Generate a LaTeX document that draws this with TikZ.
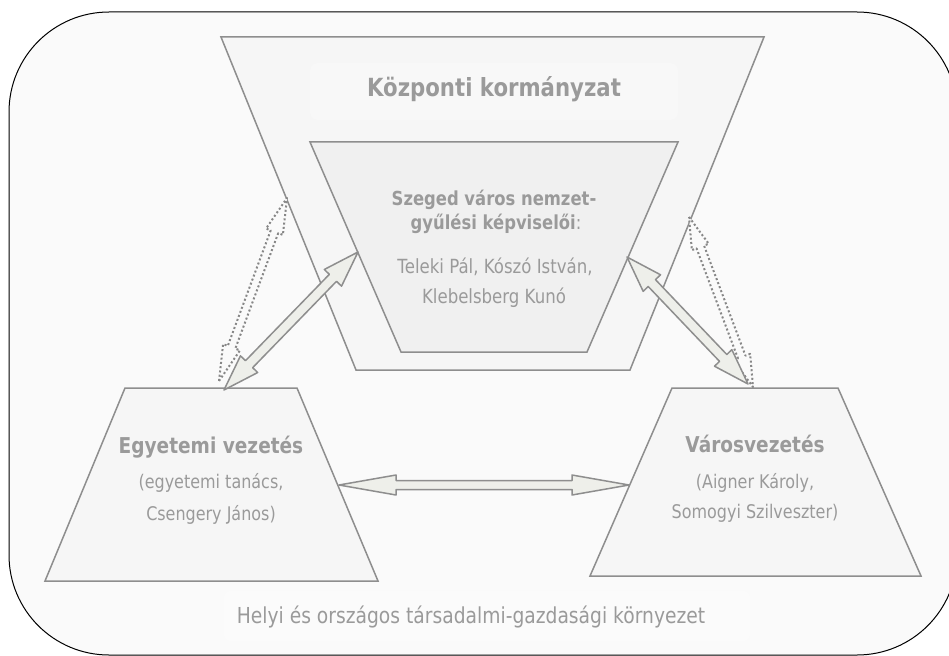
\documentclass[tikz,border=0pt]{standalone}
\usepackage{fontspec}
\setmainfont{DejaVu Sans}[FakeStretch=0.85]
\usetikzlibrary{calc}
\definecolor{bgc}{HTML}{FAFAFA}
\definecolor{trapA}{HTML}{F6F6F6}
\definecolor{trapB}{HTML}{F0F0F0}
\definecolor{edgec}{HTML}{8E8E8E}
\definecolor{txtc}{HTML}{9A9A9A}
\definecolor{arrf}{HTML}{EEEFEA}
\newcommand\blockarr[6]{%
\draw[#1] (#2) -- ($(#2)!#6!(#3)!#5!90:(#3)$) -- ($(#2)!#6!(#3)!#4!90:(#3)$)
 -- ($(#3)!#6!(#2)!#4!-90:(#2)$) -- ($(#3)!#6!(#2)!#5!-90:(#2)$) -- (#3)
 -- ($(#3)!#6!(#2)!#5!90:(#2)$) -- ($(#3)!#6!(#2)!#4!90:(#2)$)
 -- ($(#2)!#6!(#3)!#4!-90:(#3)$) -- ($(#2)!#6!(#3)!#5!-90:(#3)$) -- cycle;}
\begin{document}
\begin{tikzpicture}[x=1pt,y=-1pt,
  trap/.style={draw=edgec, line width=1.5pt, line join=miter},
  lbl/.style={text=txtc, anchor=base, inner sep=0pt},
  fatarrow/.style={draw=edgec, fill=arrf, line width=1.5pt, line join=round},
  dotarrow/.style={draw=edgec!95!black, fill=bgc, line width=2pt, dash pattern=on 2pt off 2.3pt, line join=round},
  ftitle/.style={font=\fontsize{25}{30}\selectfont\bfseries},
  fsideb/.style={font=\fontsize{21.8}{26}\selectfont\bfseries},
  fsider/.style={font=\fontsize{18.8}{23}\selectfont},
  finnerb/.style={font=\fontsize{19.3}{23}\selectfont\bfseries},
  finnerr/.style={font=\fontsize{19.5}{23}\selectfont},
  fbottom/.style={font=\fontsize{22}{26}\selectfont}]
\useasboundingbox (0,0) rectangle (949,655);
\fill[white] (0,0) rectangle (949,655);
\draw[fill=bgc, line width=1pt, rounded corners=100pt] (9,12) rectangle (957,655);
% faint box behind bottom text
\fill[white!20!bgc, rounded corners=6pt] (224,591) rectangle (750,641);
% central government (outer inverted trapezoid)
\draw[trap, fill=trapA] (221,37) -- (764,37) -- (630,370) -- (356,370) -- cycle;
\fill[white!25!trapA, rounded corners=8pt] (310,63) rectangle (678,120);
% inner trapezoid
\draw[trap, fill=trapB] (310,142) -- (678,142) -- (587,352) -- (401,352) -- cycle;
% left and right trapezoids
\draw[trap, fill=trapA] (125,388) -- (297,388) -- (378,581) -- (45,581) -- cycle;
\draw[trap, fill=trapA] (672,388) -- (838,388) -- (921,576) -- (590,576) -- cycle;
% texts
\node[lbl, ftitle] (kozp) at (494,97) {Központi kormányzat};
\node[lbl, finnerb] (sz1) at (494,205) {Szeged város nemzet-};
\node[lbl, finnerb] (sz2) at (496,229) {gyűlési képviselői\mdseries:};
\node[lbl, finnerr] (sz3) at (495,273) {Teleki Pál, Kószó István,};
\node[lbl, finnerr] (sz4) at (494,303) {Klebelsberg Kunó};
\node[lbl, fsideb] (eg1) at (211,453) {Egyetemi vezetés};
\node[lbl, fsider] (eg2) at (211,488) {(egyetemi tanács,};
\node[lbl, fsider] (eg3) at (211,520) {Csengery János)};
\node[lbl, fsideb] (va1) at (755,452) {Városvezetés};
\node[lbl, fsider] (va2) at (755,488) {(Aigner Károly,};
\node[lbl, fsider] (va3) at (755,518) {Somogyi Szilveszter)};
\node[lbl, fbottom] (env) at (471,623) {Helyi és országos társadalmi-gazdasági környezet};
% arrow end points
\coordinate (egtop) at (224,390);
\coordinate (szleft) at (358,252);
\coordinate (szright) at (627,257);
\coordinate (vatop) at (748,384);
\coordinate (egright) at (339,485);
\coordinate (valeft) at (629,485);
\coordinate (dlb) at (219,381);
\coordinate (dlt) at (287,198);
\coordinate (drt) at (689,217);
\coordinate (drb) at (753,387);
% dotted arrows
\blockarr{dotarrow}{dlb}{dlt}{4pt}{9pt}{36pt}
\blockarr{dotarrow}{drt}{drb}{4pt}{9pt}{32pt}
% block arrows
\blockarr{fatarrow}{egtop}{szleft}{5pt}{12pt}{36pt}
\blockarr{fatarrow}{szright}{vatop}{5pt}{12pt}{36pt}
\blockarr{fatarrow}{egright}{valeft}{4.5pt}{10pt}{57pt}
\end{tikzpicture}
\end{document}
